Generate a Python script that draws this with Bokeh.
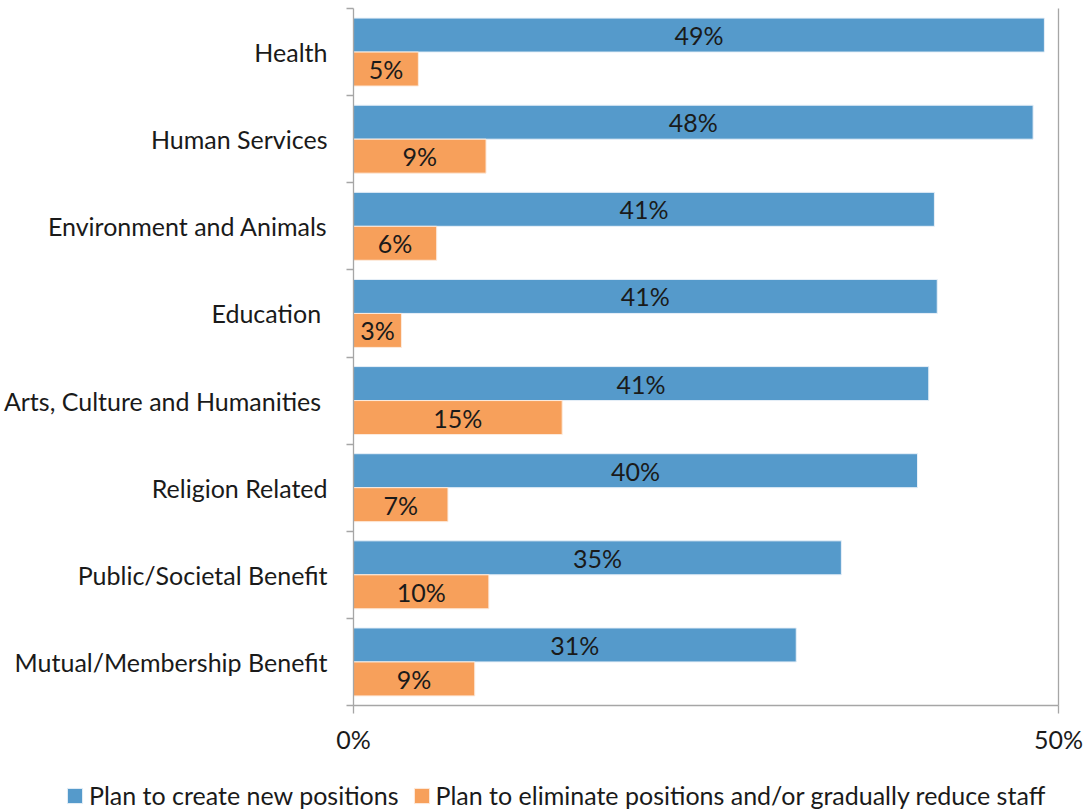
from bokeh.plotting import figure
from bokeh.models import (ColumnDataSource, Range1d, LinearAxis, FixedTicker, Legend, LegendItem)
from bokeh.core.properties import value
from bokeh.embed import file_html
from bokeh.resources import INLINE

categories = ["Health", "Human Services", "Environment and Animals", "Education ",
              "Arts, Culture and Humanities ", "Religion Related", "Public/Societal Benefit",
              "Mutual/Membership Benefit"]
create_new = [49.0, 48.2, 41.2, 41.4, 40.8, 40.0, 34.6, 31.4]
eliminate = [4.6, 9.4, 5.9, 3.4, 14.8, 6.7, 9.6, 8.6]
series_names = ["Plan to create new positions",
                "Plan to eliminate positions and/or gradually reduce staff"]
x_ticks = [0, 50]

FONT = "Lato"
FS = "25px"
BLUE = "#559ACB"
ORANGE = "#F7A05B"
AXIS = "#A6A6A6"
TXT = "#1a1a1a"

W, H = 1086, 812
# plotting area in pixels (frame covers whole canvas; axes are pinned inside it)
PL, PR, PT, PB = 353, 1058, 8, 705

n = len(categories)
bar_h = 0.39
centers = [n - i - 0.5 for i in range(n)]  # first category at top

xmax_val = x_ticks[-1]
sx = (PR - PL) / xmax_val
sy = (PB - PT) / n
x_range = Range1d(-PL / sx, xmax_val + (W - PR) / sx)
y_range = Range1d(-(H - PB) / sy, n + PT / sy)

src = ColumnDataSource(dict(
    cat=categories,
    a=create_new,
    b=eliminate,
    ya=[c + bar_h / 2 for c in centers],
    yb=[c - bar_h / 2 for c in centers],
    a_mid=[v / 2 for v in create_new],
    b_mid=[v / 2 for v in eliminate],
    a_lab=[f"{round(v)}%" for v in create_new],
    b_lab=[f"{round(v)}%" for v in eliminate],
))

p = figure(width=W, height=H, output_backend="svg", toolbar_location=None,
           y_range=y_range, x_range=x_range,
           x_axis_location=None, y_axis_location=None, min_border=0)
p.outline_line_color = None
p.grid.visible = False

# gridline at 50%
p.segment(x0=[xmax_val], x1=[xmax_val], y0=[0], y1=[n], line_color=AXIS, line_width=1.3)

ra = p.hbar(y="ya", left=0, right="a", height=bar_h,
            source=src, fill_color=BLUE, line_color="#E8F0F8", line_width=1)
rb = p.hbar(y="yb", left=0, right="b", height=bar_h,
            source=src, fill_color=ORANGE, line_color="#FDEBDD", line_width=1)

p.text(x="a_mid", y="ya", text="a_lab", source=src,
       text_align="center", text_baseline="middle", text_font=value(FONT),
       text_font_size=FS, text_color=TXT)
p.text(x="b_mid", y="yb", text="b_lab", source=src,
       text_align="center", text_baseline="middle", text_font=value(FONT),
       text_font_size=FS, text_color=TXT)

# tick-only axis at category boundaries
bound_axis = LinearAxis(ticker=FixedTicker(ticks=list(range(n + 1))), fixed_location=0,
                        bounds=(0, n),
                        major_label_overrides={i: "" for i in range(n + 1)},
                        major_label_text_font_size="1px", major_label_standoff=0,
                        major_tick_out=7, major_tick_in=0, minor_tick_line_color=None,
                        axis_line_color=AXIS, axis_line_width=1.3, major_tick_line_color=AXIS,
                        major_tick_line_width=1.3)
p.add_layout(bound_axis, "left")

cat_axis = LinearAxis(ticker=FixedTicker(ticks=centers), fixed_location=0, bounds=(0, n),
                      major_label_overrides={c: name for c, name in zip(centers, categories)},
                      major_tick_line_color=None, minor_tick_line_color=None,
                      major_tick_out=0, major_tick_in=0,
                      axis_line_color=None,
                      major_label_standoff=26, major_label_text_font=FONT,
                      major_label_text_font_size=FS, major_label_text_color=TXT)
p.add_layout(cat_axis, "left")

xaxis = LinearAxis(ticker=FixedTicker(ticks=x_ticks), fixed_location=0, bounds=(0, xmax_val),
                   major_label_overrides={t: f"{t}%" for t in x_ticks},
                   major_tick_out=8, major_tick_in=0, minor_tick_line_color=None,
                   axis_line_color=AXIS, axis_line_width=1.3, major_tick_line_color=AXIS,
                   major_tick_line_width=1.3, major_label_standoff=10,
                   major_label_text_font=FONT, major_label_text_font_size=FS,
                   major_label_text_color=TXT)
p.add_layout(xaxis, "below")

legend = Legend(items=[LegendItem(label=series_names[0], renderers=[ra]),
                       LegendItem(label=series_names[1], renderers=[rb])],
                orientation="horizontal", location=(65, 2),
                glyph_width=19, glyph_height=19, label_standoff=5, spacing=13,
                padding=0, margin=0, border_line_color=None, background_fill_alpha=0,
                label_text_font=FONT, label_text_font_size=FS,
                label_text_color=TXT)
p.add_layout(legend)

open("out.html", "w").write(file_html(p, INLINE))
